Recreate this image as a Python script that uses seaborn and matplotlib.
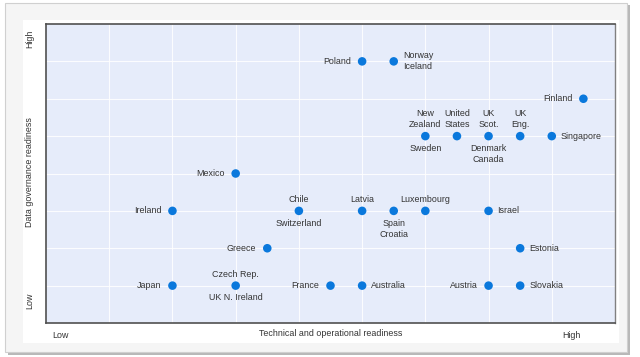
import numpy as np
import pandas as pd
import matplotlib
matplotlib.use('Agg')
import matplotlib.pyplot as plt
import matplotlib.patches as mpatches
import seaborn as sns

# point = one dot; the label texts hang off it
points = ['Poland', 'Norway', 'Finland', 'New Zealand', 'United States', 'UK Scot.',
          'UK Eng.', 'Singapore', 'Mexico', 'Ireland', 'Chile', 'Latvia', 'Spain',
          'Luxembourg', 'Israel', 'Greece', 'Estonia', 'Japan', 'UK N. Ireland',
          'France', 'Australia', 'Austria', 'Slovakia']
tech = [10, 11, 17, 12, 13, 14, 15, 16, 6, 4, 8, 10, 11, 12, 14, 7, 15, 4, 6, 9, 10, 14, 15]
gov = [7, 7, 6, 5, 5, 5, 5, 5, 4, 3, 3, 3, 3, 3, 3, 2, 2, 1, 1, 1, 1, 1, 1]

# label texts per point: (text, side)
labels = {
    'Poland': [('Poland', 'left')],
    'Norway': [('Norway\nIceland', 'right')],
    'Finland': [('Finland', 'left')],
    'New Zealand': [('New\nZealand', 'above'), ('Sweden', 'below')],
    'United States': [('United\nStates', 'above')],
    'UK Scot.': [('UK\nScot.', 'above'), ('Denmark\nCanada', 'below')],
    'UK Eng.': [('UK\nEng.', 'above')],
    'Singapore': [('Singapore', 'right')],
    'Mexico': [('Mexico', 'left')],
    'Ireland': [('Ireland', 'left')],
    'Chile': [('Chile', 'above'), ('Switzerland', 'below')],
    'Latvia': [('Latvia', 'above')],
    'Spain': [('Spain\nCroatia', 'below')],
    'Luxembourg': [('Luxembourg', 'above')],
    'Israel': [('Israel', 'right')],
    'Greece': [('Greece', 'left')],
    'Estonia': [('Estonia', 'right')],
    'Japan': [('Japan', 'left')],
    'UK N. Ireland': [('Czech Rep.', 'above'), ('UK N. Ireland', 'below')],
    'France': [('France', 'left')],
    'Australia': [('Australia', 'right')],
    'Austria': [('Austria', 'left')],
    'Slovakia': [('Slovakia', 'right')],
}

df = pd.DataFrame({'point': points, 'tech': tech, 'gov': gov})

sns.set_style('white')
plt.rcParams['font.family'] = ['Liberation Sans', 'DejaVu Sans']
txt_col = '#333333'
fs = 6.4

fig = plt.figure(figsize=(6.4, 3.57), dpi=100, facecolor='white')

# card with shadow
shadow = mpatches.Rectangle((8/640, 2/357), 622/640, 350/357, transform=fig.transFigure,
                            facecolor='#b8b8b8', edgecolor='none', zorder=-10)
card = mpatches.Rectangle((5/640, 5/357), 622/640, 349/357, transform=fig.transFigure,
                          facecolor='#f5f5f5', edgecolor='#d0d0d0', linewidth=0.8, zorder=-9)
inner = mpatches.Rectangle((23/640, 14/357), 596/640, 323/357, transform=fig.transFigure,
                           facecolor='white', edgecolor='none', zorder=-8)
fig.patches.extend([shadow, card, inner])

ax = fig.add_axes([46/640, 34/357, 569/640, 299/357])
ax.set_facecolor('#e6ecfa')

sns.scatterplot(data=df, x='tech', y='gov', color='#0a78dc', s=38, edgecolor='none',
                ax=ax, zorder=3, legend=False)

ax.set_xlim(0, 18)
ax.set_ylim(0, 8)
ax.set_xticks(np.arange(2, 18, 2))
ax.set_yticks(np.arange(1, 8))
ax.grid(True, color='white', linewidth=0.8, alpha=0.85)
ax.set_axisbelow(True)
ax.tick_params(axis='x', length=0, labelbottom=False)
ax.tick_params(axis='y', length=3, width=0.8, color='#555555', direction='out', labelleft=False)
ax.set_xlabel('')
ax.set_ylabel('')
for side in ['left', 'bottom', 'top']:
    ax.spines[side].set_color('#505050')
    ax.spines[side].set_linewidth(1.2)
ax.spines['right'].set_color('#808080')
ax.spines['right'].set_linewidth(1.0)

offsets = {'left': (-8, 0, 'right', 'center', 'right'), 'right': (6.5, 0, 'left', 'center', 'left'),
           'above': (0, 5, 'center', 'bottom', 'center'), 'below': (0, -5.5, 'center', 'top', 'center')}
for p, x, y in zip(points, tech, gov):
    for text, side in labels[p]:
        dx, dy, ha, va, ma = offsets[side]
        ax.annotate(text, (x, y), xytext=(dx, dy), textcoords='offset points',
                    ha=ha, va=va, fontsize=fs, color=txt_col, linespacing=1.3,
                    multialignment=ma)

# axis captions
fig.text(60/640, 1 - 335/357, 'Low', fontsize=fs, color=txt_col, ha='center', va='center')
fig.text(571/640, 1 - 335/357, 'High', fontsize=fs, color=txt_col, ha='center', va='center')
fig.text(331/640, 1 - 333/357, 'Technical and operational readiness', fontsize=fs,
         color=txt_col, ha='center', va='center')
fig.text(30/640, 1 - 39/357, 'High', fontsize=fs, color=txt_col, ha='center', va='center',
         rotation=90)
fig.text(30/640, 1 - 301/357, 'Low', fontsize=fs, color=txt_col, ha='center', va='center',
         rotation=90)
fig.text(30/640, 1 - 172/357, 'Data governance readiness', fontsize=fs, color=txt_col,
         ha='center', va='center', rotation=90)

plt.savefig('out.png', dpi=100, facecolor='white')
plt.close('all')
